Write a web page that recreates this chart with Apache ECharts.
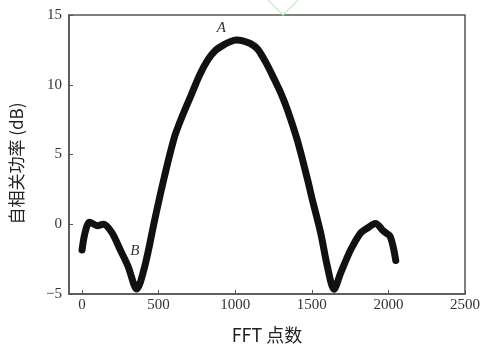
<!DOCTYPE html>
<html>
<head>
<meta charset="utf-8">
<script src="https://cdn.jsdelivr.net/npm/echarts@6/dist/echarts.min.js"></script>
<style>
html,body{margin:0;padding:0;background:#fff;}
#c{width:486px;height:352px;}
</style>
</head>
<body>
<div id="c"></div>
<script>
// FFT point index
var fftPoints = [0, 20, 50, 100, 140, 195, 250, 300, 357, 410, 476, 539, 605, 660, 714, 770, 822, 870, 931, 970, 1006, 1050, 1100, 1147, 1200, 1255, 1300, 1341, 1406, 1470, 1504, 1558, 1601, 1645, 1688, 1753, 1818, 1861, 1915, 1969, 2012, 2048];
// autocorrelation power (dB)
var powerDb = [-1.85, -0.6, 0.15, -0.1, 0.0, -0.6, -1.85, -3.0, -4.65, -3.0, 0.4, 3.46, 6.3, 7.9, 9.3, 10.75, 11.8, 12.45, 12.9, 13.1, 13.2, 13.15, 12.95, 12.55, 11.6, 10.4, 9.35, 8.2, 6.0, 3.3, 1.74, -0.63, -3.0, -4.66, -3.5, -1.85, -0.63, -0.29, 0.05, -0.5, -0.89, -2.6];
var xTicks = [0, 500, 1000, 1500, 2000, 2500];
var yTicks = [-5, 0, 5, 10, 15];
var annotations = [
  {name: 'A', x: 909, y: 14.07},
  {name: 'B', x: 345, y: -1.92}
];

var seriesData = fftPoints.map(function (x, i) { return [x, powerDb[i]]; });

var chart = echarts.init(document.getElementById('c'), null, {renderer: 'canvas'});
chart.setOption({
  animation: false,
  backgroundColor: '#ffffff',
  grid: {left: 67, top: 15, right: 21, bottom: 58, show: true, borderColor: '#555', borderWidth: 1.5, backgroundColor: 'transparent'},
  xAxis: {
    type: 'value', min: -85, max: 2500,
    name: 'FFT 点数', nameLocation: 'middle', nameGap: 32,
    nameTextStyle: {fontFamily: '"Noto Sans CJK SC", "Noto Sans", sans-serif', fontSize: 18, color: '#222'},
    axisLine: {show: true, onZero: false, lineStyle: {color: '#555', width: 1.5}},
    axisTick: {show: true, inside: true, length: 4, customValues: xTicks, lineStyle: {color: '#555'}},
    axisLabel: {customValues: xTicks, margin: 4, fontFamily: '"Liberation Serif", serif', fontSize: 15, color: '#333',
      formatter: function (v) { return String(v); }},
    splitLine: {show: false}
  },
  yAxis: {
    type: 'value', min: -5, max: 15, interval: 5,
    name: '自相关功率 (dB)', nameLocation: 'middle', nameGap: 44, nameRotate: 90,
    nameTextStyle: {fontFamily: '"Noto Sans CJK SC", "Noto Sans", sans-serif', fontSize: 17, color: '#222', padding: [0, 0, 0, -18]},
    axisLine: {show: true, onZero: false, lineStyle: {color: '#555', width: 1.5}},
    axisTick: {show: true, inside: true, length: 4, customValues: yTicks, lineStyle: {color: '#555'}},
    axisLabel: {customValues: yTicks, margin: 7, fontFamily: '"Liberation Serif", serif', fontSize: 15, color: '#333',
      formatter: function (v) { return String(v).replace('-', '\u2212'); }},
    splitLine: {show: false}
  },
  graphic: [{
    type: 'polyline', silent: true,
    shape: {points: [[268, 0], [283, 15], [298, 0]]},
    style: {stroke: '#bff0bf', lineWidth: 1.2, fill: null}
  }],
  series: [{
    type: 'line',
    data: seriesData,
    showSymbol: false,
    smooth: 0.3,
    lineStyle: {color: '#111', width: 7, cap: 'round', join: 'round'},
    markPoint: {
      symbol: 'circle', symbolSize: 0,
      label: {show: true, position: 'inside', formatter: '{b}', fontFamily: '"Liberation Serif", serif', fontStyle: 'italic', fontSize: 15, color: '#333'},
      data: annotations.map(function (a) { return {name: a.name, coord: [a.x, a.y]}; })
    }
  }]
});
</script>
</body>
</html>
